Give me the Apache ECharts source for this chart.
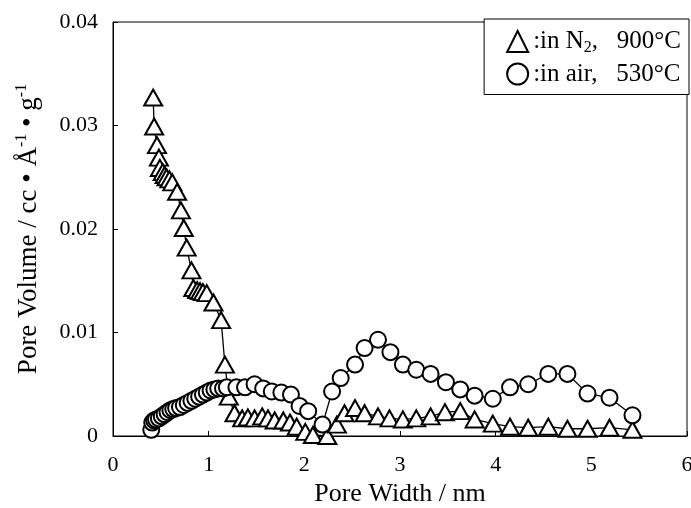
<!DOCTYPE html>
<html>
<head>
<meta charset="utf-8">
<script src="https://cdn.jsdelivr.net/npm/echarts@6/dist/echarts.min.js"></script>
<style>
  html, body { margin: 0; padding: 0; background: #fff; }
  #chartBox { width: 691px; height: 508px; }
</style>
</head>
<body>
<div id="chartBox"></div>
<script>
// in N2, 900C  (triangles)
var n2X = [0.42, 0.43, 0.46, 0.48, 0.49, 0.52, 0.54, 0.56, 0.59, 0.62, 0.67, 0.71, 0.74, 0.77, 0.82, 0.84, 0.88, 0.91, 0.94, 0.98,
  1.05, 1.13, 1.17, 1.21, 1.27, 1.35, 1.41, 1.48, 1.56, 1.62, 1.69, 1.78, 1.85, 1.92, 2.01, 2.09, 2.24, 2.34, 2.42, 2.53,
  2.63, 2.77, 2.89, 3.03, 3.17, 3.32, 3.47, 3.63, 3.78, 3.97, 4.15, 4.34, 4.55, 4.75, 4.96, 5.19, 5.43]
var n2Y = [0.0327, 0.0299, 0.0281, 0.0269, 0.0259, 0.0255, 0.0252, 0.0250, 0.0248, 0.0245, 0.0236, 0.0218, 0.0201, 0.0182, 0.0160, 0.0143, 0.0141, 0.0140, 0.0139, 0.0138,
  0.0129, 0.0112, 0.0069, 0.0038, 0.0022, 0.0017, 0.0018, 0.0017, 0.0019, 0.0017, 0.0015, 0.0015, 0.0013, 0.0009, 0.0004, 0.0001, 0.0000, 0.0011, 0.0022, 0.0027,
  0.0022, 0.0019, 0.0017, 0.0016, 0.0017, 0.0019, 0.0023, 0.0024, 0.0016, 0.0012, 0.0009, 0.0008, 0.0009, 0.0007, 0.0007, 0.0008, 0.0006]
// in air, 530C  (circles)
var airX = [0.40, 0.41, 0.43, 0.45, 0.48, 0.51, 0.54, 0.57, 0.60, 0.63, 0.66, 0.70, 0.74, 0.78, 0.82, 0.86, 0.90, 0.94, 0.98, 1.02,
  1.06, 1.10, 1.15, 1.19, 1.29, 1.38, 1.48, 1.57, 1.66, 1.76, 1.86, 1.95, 2.04, 2.19, 2.29, 2.38, 2.53, 2.63, 2.77, 2.90,
  3.03, 3.17, 3.32, 3.48, 3.63, 3.78, 3.97, 4.15, 4.34, 4.55, 4.75, 4.96, 5.19, 5.43]
var airY = [0.0006, 0.0013, 0.0015, 0.0016, 0.0017, 0.0019, 0.0021, 0.0023, 0.0025, 0.0026, 0.0027, 0.0028, 0.0030, 0.0032, 0.0034, 0.0036, 0.0038, 0.0040, 0.0042, 0.0044,
  0.0045, 0.0046, 0.0046, 0.0047, 0.0047, 0.0047, 0.0050, 0.0046, 0.0043, 0.0042, 0.0040, 0.0029, 0.0024, 0.0011, 0.0043, 0.0056, 0.0069, 0.0085, 0.0093, 0.0081,
  0.0069, 0.0064, 0.0060, 0.0052, 0.0045, 0.0039, 0.0036, 0.0047, 0.0050, 0.0060, 0.0060, 0.0041, 0.0037, 0.0020]

var font = 'Liberation Serif'

function zip(xs, ys) {
  return xs.map(function (x, i) { return [x, ys[i]] })
}

var myChart = echarts.init(document.getElementById('chartBox'))
myChart.setOption({
  animation: false,
  grid: {
    left: 113,
    right: 4,
    top: 22,
    bottom: 72,
    outerBoundsMode: 'none',
    show: true,
    borderColor: '#000',
    borderWidth: 1
  },
  legend: {
    orient: 'vertical',
    right: 2,
    top: 19,
    padding: [10, 8, 8, 22],
    itemGap: 6,
    itemWidth: 21,
    itemHeight: 21,
    borderColor: '#000',
    borderWidth: 1,
    backgroundColor: '#fff',
    data: [
      { name: 'N2', icon: 'triangle', itemStyle: { color: '#fff', borderColor: '#000', borderWidth: 2 } },
      { name: 'air', icon: 'circle', itemStyle: { color: '#fff', borderColor: '#000', borderWidth: 2 } }
    ],
    formatter: function (name) {
      if (name === 'N2') return '{a|:in N}{s|2}{a|,   900°C}'
      return '{a|:in air,   530°C}'
    },
    textStyle: {
      fontFamily: font,
      fontSize: 25,
      color: '#000',
      rich: {
        a: { fontFamily: font, fontSize: 25, color: '#000' },
        s: { fontFamily: font, fontSize: 16, color: '#000', padding: [12, 0, 0, 0] }
      }
    }
  },
  xAxis: {
    type: 'value',
    min: 0,
    max: 6,
    interval: 1,
    name: 'Pore Width / nm',
    nameLocation: 'middle',
    nameGap: 40,
    nameTextStyle: { fontFamily: font, fontSize: 26, color: '#000' },
    axisLine: { lineStyle: { color: '#000', width: 1 } },
    axisTick: { inside: true, length: 5, lineStyle: { color: '#000' } },
    axisLabel: { fontFamily: font, fontSize: 22, color: '#000', margin: 18 },
    splitLine: { show: false }
  },
  yAxis: {
    type: 'value',
    min: 0,
    max: 0.04,
    interval: 0.01,
    name: '{a|Pore Volume / cc • Å}{p|-1}{a| • g}{p|-1}',
    nameLocation: 'middle',
    nameGap: 70,
    nameTextStyle: {
      fontFamily: font,
      fontSize: 27,
      color: '#000',
      rich: {
        a: { fontFamily: font, fontSize: 27, color: '#000' },
        p: { fontFamily: font, fontSize: 16, color: '#000', padding: [0, 0, 13, 0] }
      }
    },
    axisLine: { lineStyle: { color: '#000', width: 1 } },
    axisTick: { inside: true, length: 5, lineStyle: { color: '#000' } },
    axisLabel: {
      fontFamily: font,
      fontSize: 22,
      color: '#000',
      margin: 15,
      formatter: function (v) { return v === 0 ? '0' : v.toFixed(2) }
    },
    splitLine: { show: false }
  },
  series: [
    {
      name: 'N2',
      type: 'line',
      data: zip(n2X, n2Y),
      symbol: 'triangle',
      symbolSize: [18, 16],
      showAllSymbol: true,
      lineStyle: { color: '#000', width: 1.3 },
      itemStyle: { color: '#fff', borderColor: '#000', borderWidth: 2 }
    },
    {
      name: 'air',
      type: 'line',
      data: zip(airX, airY),
      symbol: 'circle',
      symbolSize: 16,
      showAllSymbol: true,
      lineStyle: { color: '#000', width: 1.3 },
      itemStyle: { color: '#fff', borderColor: '#000', borderWidth: 2 }
    }
  ]
})
</script>
</body>
</html>
